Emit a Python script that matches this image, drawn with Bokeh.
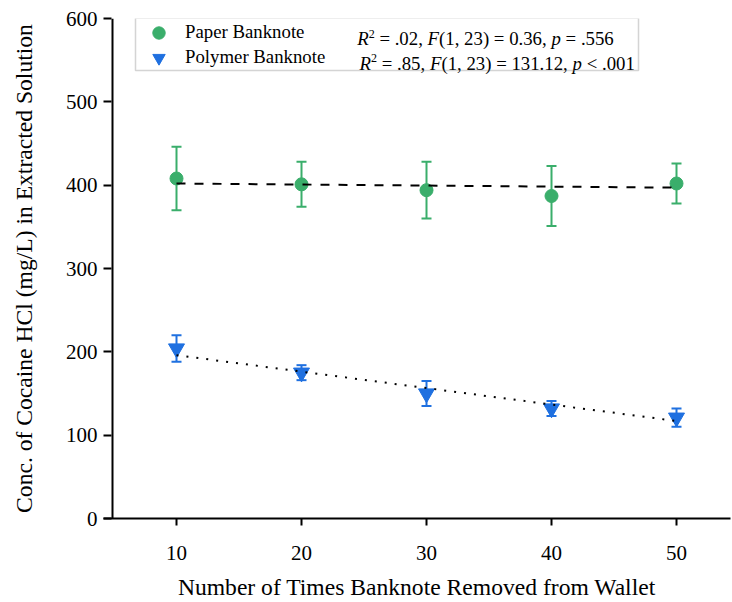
from bokeh.plotting import figure
from bokeh.models import (Range1d, FixedTicker, Whisker, TeeHead, ColumnDataSource,
                          Label, BoxAnnotation, Legend, LegendItem, Span)
from bokeh.embed import file_html
from bokeh.resources import INLINE

# ---- data ----
x_vals = [10, 20, 30, 40, 50]
paper_mean = [408, 401, 394, 387, 402]
paper_err = [38, 27, 34, 36, 24]
polymer_mean = [204, 175, 150, 132, 121]
polymer_err = [16, 9, 15, 9, 11]
fit_x = [10, 50]
paper_fit = [402, 397]
polymer_fit = [196, 117]
x_ticks = [10, 20, 30, 40, 50]
y_ticks = [0, 100, 200, 300, 400, 500, 600]
series_names = ["Paper Banknote", "Polymer Banknote"]
x_title = "Number of Times Banknote Removed from Wallet"
y_title = "Conc. of Cocaine HCl (mg/L) in Extracted Solution"
paper_stats = [("R", "i"), ("2", "s"), (" = .02, ", "n"), ("F", "i"),
               ("(1, 23) = 0.36, ", "n"), ("p", "i"), (" = .556", "n")]
polymer_stats = [("R", "i"), ("2", "s"), (" = .85, ", "n"), ("F", "i"),
                 ("(1, 23) = 131.12, ", "n"), ("p", "i"), (" < .001", "n")]

GREEN = "#3AAE6B"
BLUE = "#1F70E0"
FONT = "Liberation Serif"
Y_AXIS_AT = 4.88

p = figure(width=732, height=602, output_backend="svg", toolbar_location=None,
           x_range=Range1d(4.16, 54.32), y_range=Range1d(0, 600),
           min_border_left=103, min_border_right=2, min_border_top=18,
           min_border_bottom=83)
p.outline_line_color = None
p.xgrid.grid_line_color = None
p.ygrid.grid_line_color = None

def err_source(mean, err):
    return ColumnDataSource(dict(x=x_vals, y=mean,
                                 lo=[m - e for m, e in zip(mean, err)],
                                 hi=[m + e for m, e in zip(mean, err)]))

src_paper = err_source(paper_mean, paper_err)
src_poly = err_source(polymer_mean, polymer_err)

for src, col in ((src_paper, GREEN), (src_poly, BLUE)):
    w = Whisker(source=src, base="x", upper="hi", lower="lo",
                line_color=col, line_width=2, level="underlay",
                upper_head=TeeHead(size=10, line_color=col, line_width=2),
                lower_head=TeeHead(size=10, line_color=col, line_width=2))
    p.add_layout(w)

r_paper = p.scatter("x", "y", source=src_paper, marker="circle", size=13,
                    fill_color=GREEN, line_color=GREEN)
r_poly = p.scatter("x", "y", source=src_poly, marker="inverted_triangle", size=16,
                   fill_color=BLUE, line_color=BLUE)

p.line(fit_x, paper_fit, line_color="black", line_width=2, line_dash="9 9")
p.line(fit_x, polymer_fit, line_color="black", line_width=2, line_dash="2 8")

# axes
for ax in (p.xaxis, p.yaxis):
    ax.axis_line_width = 2
    ax.axis_line_color = "black"
    ax.major_tick_line_width = 2
    ax.major_tick_line_color = "black"
    ax.minor_tick_line_color = None
    ax.major_label_text_font = FONT
    ax.major_label_text_font_size = "21px"
    ax.major_label_text_color = "black"
    ax.axis_label_text_font = FONT
    ax.axis_label_text_font_size = "23.6px"
    ax.axis_label_text_font_style = "normal"
    ax.axis_label_text_color = "black"

p.xaxis.ticker = FixedTicker(ticks=x_ticks)
p.yaxis.ticker = FixedTicker(ticks=y_ticks)
p.xaxis.major_tick_in = 0
p.xaxis.major_tick_out = 7
p.xaxis.major_label_standoff = 20
p.xaxis.axis_label = x_title
p.xaxis.axis_label_standoff = 11
p.xaxis.axis_label_text_line_height = 0.6
# the y axis line sits a little inside the frame, so the x axis runs past it
p.yaxis.axis_line_color = None
p.yaxis.major_tick_in = 8
p.yaxis.major_tick_out = 0
p.yaxis.major_label_standoff = 6
p.yaxis.axis_label = y_title
p.yaxis.axis_label_standoff = 26
p.add_layout(Span(location=Y_AXIS_AT, dimension="height", line_color="black",
                  line_width=2))

# legend frame
p.add_layout(BoxAnnotation(left=32, right=535, top=500.5, bottom=448,
                           left_units="screen", right_units="screen",
                           top_units="screen", bottom_units="screen",
                           fill_alpha=0, line_color="#707070", line_width=1.5,
                           level="overlay"))

def legend_for(name, renderer, bottom):
    return Legend(items=[LegendItem(label=name, renderers=[renderer])],
                  location=(39, bottom), border_line_alpha=0,
                  background_fill_alpha=0, padding=0, spacing=0, margin=0,
                  glyph_width=33, glyph_height=31, label_height=31,
                  label_standoff=10, label_text_font=FONT,
                  label_text_font_size="18.8px", label_text_color="black")

p.add_layout(legend_for(series_names[0], r_paper, 470.5))
p.add_layout(legend_for(series_names[1], r_poly, 445.5))

# statistics text, pieced so that the symbols are italic
WN = {' ': 250, '.': 250, ',': 250, '=': 564, '<': 564, '(': 333, ')': 333}
WI = {'R': 611, 'F': 611, 'p': 500}
FS = 18.8
SUP = 12

def width(s, kind):
    if kind == "i":
        return sum(WI[c] for c in s) * FS / 1000
    if kind == "s":
        return sum(WN.get(c, 500) for c in s) * SUP / 1000
    return sum(WN.get(c, 500) for c in s) * FS / 1000

def stat_line(pieces, x0, y0):
    x = x0
    for txt, kind in pieces:
        lead = len(txt) - len(txt.lstrip(' '))
        shown = txt.strip(' ')
        xs = x + width(' ' * lead, "n")
        p.add_layout(Label(x=xs, y=y0 + (5 if kind == "s" else 0),
                           x_units="screen", y_units="screen", text=shown,
                           text_font=FONT,
                           text_font_size=f"{SUP if kind == 's' else FS}px",
                           text_font_style="italic" if kind == "i" else "normal",
                           text_baseline="alphabetic", text_align="left",
                           text_color="black"))
        x += width(txt, kind)

stat_line(paper_stats, 253.7, 480)
stat_line(polymer_stats, 256, 455.5)

open("out.html", "w").write(file_html(p, INLINE))
